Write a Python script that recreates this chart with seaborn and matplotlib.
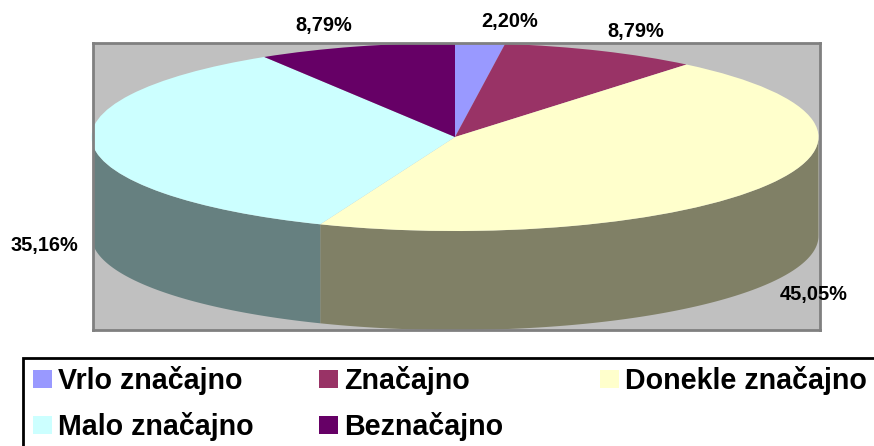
import numpy as np
import matplotlib
matplotlib.use("Agg")
import matplotlib.pyplot as plt
from matplotlib.patches import Rectangle
import seaborn as sns

# data (share of answers, %)
categories = ["Vrlo značajno", "Značajno", "Donekle značajno", "Malo značajno", "Beznačajno"]
shares = [2.20, 8.79, 45.05, 35.16, 8.79]
top_colors = ["#9999FF", "#993366", "#FFFFCC", "#CCFFFF", "#660066"]
side_colors = ["#4D4D80", "#4D1A33", "#808066", "#668080", "#330033"]

sns.set_theme(style="white")
plt.rcParams["font.family"] = ["Liberation Sans", "DejaVu Sans"]
plt.rcParams["text.color"] = "black"

W, H = 874, 446
fig = plt.figure(figsize=(W / 100, H / 100), dpi=100)
fig.patch.set_facecolor("white")

# plot area (grey box)
ax = fig.add_axes([93 / W, (H - 330) / H, (820 - 93) / W, (330 - 43) / H])
ax.set_facecolor("#C0C0C0")

depth = 1.053
shares_arr = np.array(shares)
bounds = np.concatenate([[0], np.cumsum(shares_arr)]) / shares_arr.sum() * 360

# side wall of the 3D pie (only the front half is visible)
for i in range(len(shares)):
    t0, t1 = max(bounds[i], 90), min(bounds[i + 1], 270)
    if t1 <= t0:
        continue
    t = np.radians(np.linspace(t0, t1, 100))
    xs = np.concatenate([np.sin(t), np.sin(t[::-1])])
    ys = np.concatenate([np.cos(t), np.cos(t[::-1]) - depth])
    ax.fill(xs, ys, color=side_colors[i], lw=0)

# top face
wedges, _ = ax.pie(shares, colors=top_colors, startangle=90, counterclock=False,
                   radius=1, frame=True, wedgeprops=dict(linewidth=0))
ax.set_aspect("auto")
ax.set_xlim(-(455 - 93) / 363.5, (820 - 455) / 363.5)
ax.set_ylim(-2.053, 1.0)
ax.set_xticks([])
ax.set_yticks([])
for sp in ax.spines.values():
    sp.set_visible(True)
    sp.set_color("#808080")
    sp.set_linewidth(2)

# percentage labels outside the pie
for i, v in enumerate(shares):
    mid = np.radians((bounds[i] + bounds[i + 1]) / 2)
    s, c = np.sin(mid), np.cos(mid)
    x = s * 1.04
    y = c * 1.23 - (depth if c < 0 else 0)
    ha = "left" if s > 0 else "right"
    ax.text(x, y, f"{v:.2f}%".replace(".", ","), ha=ha, va="center",
            fontsize=14.4, fontweight="bold", color="black", clip_on=False)

# legend frame + three columns
fig.patches.append(Rectangle((23 / W, -0.05), 1.1, (H - 358) / H + 0.05,
                             transform=fig.transFigure, fill=False,
                             ec="black", lw=2, zorder=5))
columns = [[0, 3], [1, 4], [2]]
col_x = [33, 319, 600]
for cols, cx in zip(columns, col_x):
    fig.legend([wedges[k] for k in cols], [categories[k] for k in cols],
               loc="upper left", bbox_to_anchor=(cx / W, (H - 366) / H),
               frameon=False, borderpad=0, borderaxespad=0,
               handlelength=0.66, handleheight=0.63, handletextpad=0.21,
               labelspacing=0.6, labelcolor="black",
               prop=dict(size=20.6, weight="bold"))

fig.savefig("out.png", dpi=100)
